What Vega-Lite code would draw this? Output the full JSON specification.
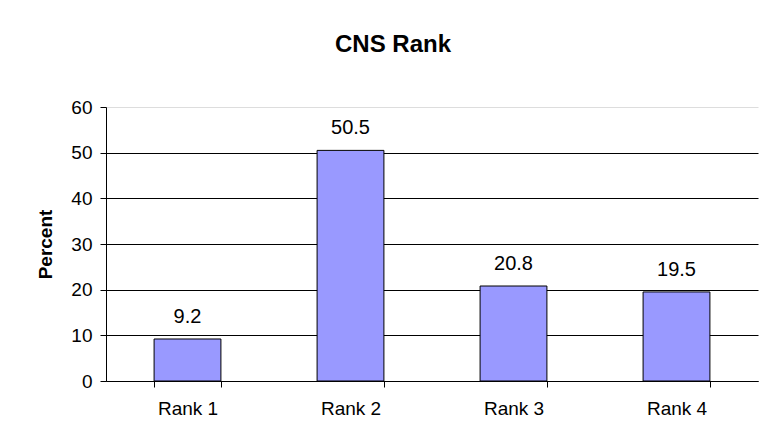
{
  "$schema": "https://vega.github.io/schema/vega-lite/v6.json",
  "autosize": {"type": "none"},
  "padding": {"left": 106, "top": 107, "right": 2, "bottom": 56},
  "width": 652,
  "height": 274,
  "background": "white",
  "title": {
    "text": "CNS Rank",
    "font": "Liberation Sans",
    "fontSize": 24,
    "fontWeight": "bold",
    "color": "black",
    "anchor": "middle",
    "dx": -39,
    "offset": 22,
    "baseline": "alphabetic"
  },
  "data": {
    "values": [
      {"rank": "Rank 1", "percent": 9.2},
      {"rank": "Rank 2", "percent": 50.5},
      {"rank": "Rank 3", "percent": 20.8},
      {"rank": "Rank 4", "percent": 19.5}
    ]
  },
  "encoding": {
    "x": {
      "field": "rank",
      "type": "nominal",
      "sort": null,
      "scale": {"paddingInner": 0.59, "paddingOuter": 0.295},
      "axis": {
        "title": null,
        "labelAngle": 0,
        "labelFont": "Liberation Sans",
        "labelFontSize": 19,
        "labelColor": "black",
        "labelPadding": 12,
        "domainColor": "black",
        "tickColor": "black",
        "tickSize": 6,
        "tickBand": "extent",
        "grid": false
      }
    },
    "y": {
      "field": "percent",
      "type": "quantitative",
      "scale": {"domain": [0, 60], "nice": false},
      "axis": {
        "title": "Percent",
        "titleFont": "Liberation Sans",
        "titleFontSize": 19,
        "titleFontWeight": "bold",
        "titleColor": "black",
        "titlePadding": 15,
        "values": [0, 10, 20, 30, 40, 50, 60],
        "labelFont": "Liberation Sans",
        "labelFontSize": 19,
        "labelColor": "black",
        "labelPadding": 8,
        "domainColor": "black",
        "tickColor": "black",
        "tickSize": 6,
        "grid": true,
        "gridColor": {"condition": {"test": "datum.value == 60", "value": "#dddddd"}, "value": "black"},
        "gridOpacity": 1
      }
    }
  },
  "layer": [
    {
      "mark": {"type": "bar", "color": "#9999FF", "stroke": "black", "strokeWidth": 1}
    },
    {
      "mark": {
        "type": "text",
        "font": "Liberation Sans",
        "fontSize": 20,
        "color": "black",
        "baseline": "alphabetic",
        "dy": -16
      },
      "encoding": {"text": {"field": "percent", "type": "quantitative", "format": ".1f"}}
    }
  ],
  "config": {"view": {"stroke": null}}
}
